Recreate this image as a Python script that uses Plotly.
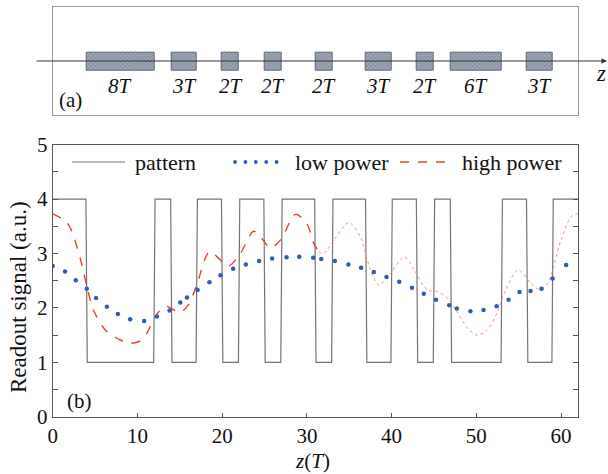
import plotly.graph_objects as go

# ---------------- data ----------------
# recorded marks (low level of the pattern), in units of T
mark_start = [4, 14, 20, 25, 31, 37, 43, 47, 56]
mark_end = [12, 17, 22, 27, 33, 40, 45, 53, 59]
z_min, z_max = 0, 62
level_high, level_low = 4, 1

# low power readout (dots)
lp_z = [0, 1.46, 2.72, 4.02, 5.12, 6.39, 7.69, 9.14, 10.8, 12.3, 13.8, 15.06, 15.85,
        17.1, 18.5, 19.8, 21.3, 22.8, 24.36, 25.9, 27.6, 29.1, 30.75, 31.7, 33.3,
        34.9, 36.4, 37.9, 39.4, 40.9, 42.4, 43.8, 45.25, 46.8, 47.7, 49.3, 50.85,
        52.4, 53.8, 55.1, 56.4, 57.7, 59.0, 60.6]
lp_v = [2.77, 2.67, 2.51, 2.35, 2.18, 2.02, 1.89, 1.79, 1.76, 1.84, 1.95, 2.10, 2.19,
        2.33, 2.47, 2.60, 2.72, 2.80, 2.86, 2.91, 2.93, 2.94, 2.92, 2.90, 2.86,
        2.80, 2.74, 2.66, 2.57, 2.48, 2.37, 2.26, 2.15, 2.05, 1.99, 1.94, 1.96,
        2.03, 2.15, 2.29, 2.31, 2.35, 2.54, 2.79]

# high power readout, dashed part
hp_z_a = [0, 1.5, 2.2, 3.3, 4.0, 4.8, 6.4, 8.0, 9.1, 10.3, 11.1, 12.1, 13.3, 15.0,
          16.0, 17.0, 18.5, 20.2, 20.8, 22.15, 23.7, 24.5, 25.7, 26.9, 28.66,
          30.0, 30.8, 31.4]
hp_v_a = [3.73, 3.60, 3.43, 2.88, 2.42, 1.96, 1.56, 1.41, 1.35, 1.39, 1.53, 1.84,
          2.03, 1.92, 2.05, 2.42, 3.03, 2.82, 2.77, 3.0, 3.41, 3.31, 3.10, 3.25,
          3.72, 3.55, 3.19, 3.03]
# high power readout, faint continuation
hp_z_b = [31.4, 32.0, 33.2, 34.96, 36.3, 37.5, 38.5, 39.9, 41.5, 42.65, 44.2, 45.4,
          46.6, 47.8, 49.0, 50.1, 51.3, 52.5, 53.3, 54.9, 56.45, 57.4, 58.4, 60.0,
          61.2, 62.0]
hp_v_b = [3.03, 3.0, 3.25, 3.57, 3.31, 2.70, 2.42, 2.64, 2.94, 2.70, 2.33, 2.30,
          2.18, 1.90, 1.62, 1.50, 1.59, 1.93, 2.27, 2.70, 2.45, 2.34, 2.45, 3.25,
          3.68, 3.73]

x_ticks = [0, 10, 20, 30, 40, 50, 60]
y_ticks = [0, 1, 2, 3, 4, 5]
legend_labels = ["pattern", "low power", "high power"]
x_title = "<i>z</i>(<i>T</i>)"
y_title = "Readout signal (a.u.)"

# ---------------- build pattern polyline ----------------
ramp = 0.08
pat_x = [z_min]
pat_y = [level_high]
for s, e in zip(mark_start, mark_end):
    pat_x += [s - ramp, s + ramp, e - ramp, e + ramp]
    pat_y += [level_high, level_low, level_low, level_high]
pat_x.append(z_max)
pat_y.append(level_high)

W, H = 608, 474
SERIF = "Liberation Serif"
INK = "#111"

def px(xp):
    return xp / W

def py(yp):
    return 1 - yp / H

fig = go.Figure()

# bottom panel traces
fig.add_trace(go.Scatter(x=pat_x, y=pat_y, mode="lines",
                         line=dict(color="#757575", width=1.2), showlegend=False))
fig.add_trace(go.Scatter(x=hp_z_a, y=hp_v_a, mode="lines",
                         line=dict(color="#e8402e", width=1.4, dash="dash", shape="spline", smoothing=0.8),
                         showlegend=False))
fig.add_trace(go.Scatter(x=hp_z_b, y=hp_v_b, mode="lines",
                         line=dict(color="#f39277", width=1.0, dash="dot", shape="spline", smoothing=0.8),
                         showlegend=False))
fig.add_trace(go.Scatter(x=lp_z, y=lp_v, mode="markers",
                         marker=dict(color="#2d5db4", size=4.5), showlegend=False))

# top panel: marks as bars
centers = [(s + e) / 2 for s, e in zip(mark_start, mark_end)]
lengths = [e - s for s, e in zip(mark_start, mark_end)]
fig.add_trace(go.Bar(x=centers, y=[0.165] * len(centers), base=0.415, width=lengths,
                     xaxis="x2", yaxis="y2",
                     marker=dict(color="#9da6b5", line=dict(color="#5e6678", width=1),
                                 pattern=dict(shape="x", size=3, fgcolor="#66707f", solidity=0.45)),
                     showlegend=False))

annotations = []
for c, n in zip(centers, lengths):
    annotations.append(dict(x=c, y=0.27, xref="x2", yref="y2", text=f"<i>{n}T</i>",
                            xanchor="center", yanchor="middle",
                            showarrow=False, font=dict(family=SERIF, size=21, color=INK)))
annotations.append(dict(x=0.55, y=0.14, xref="x2", yref="y2", text="(a)", xanchor="left",
                        yanchor="middle", showarrow=False, font=dict(family=SERIF, size=21, color=INK)))
annotations.append(dict(x=1.4, y=0.28, xref="x", yref="y", text="(b)", xanchor="left",
                        yanchor="middle", showarrow=False, font=dict(family=SERIF, size=21, color=INK)))
# axis arrow on top panel
annotations.append(dict(x=px(607), y=py(61), ax=-(607 - 35), ay=0, xref="paper", yref="paper",
                        axref="pixel", ayref="pixel", text="", showarrow=True,
                        arrowhead=2, arrowsize=1.1, arrowwidth=1, arrowcolor="#333"))
annotations.append(dict(x=px(601), y=py(73), xref="paper", yref="paper", text="<i>z</i>",
                        xanchor="center", yanchor="middle",
                        showarrow=False, font=dict(family=SERIF, size=23, color=INK)))
# axis titles
annotations.append(dict(x=px(18), y=py(297), xref="paper", yref="paper", text=y_title, textangle=-90,
                        xanchor="center", yanchor="middle",
                        showarrow=False, font=dict(family=SERIF, size=23, color=INK)))
annotations.append(dict(x=px(312), y=py(461), xref="paper", yref="paper", text=x_title,
                        xanchor="center", yanchor="middle",
                        showarrow=False, font=dict(family=SERIF, size=21, color=INK)))

# legend (manual)
leg_y = py(162)
shapes = []
shapes.append(dict(type="line", xref="paper", yref="paper", x0=px(72), x1=px(125), y0=leg_y, y1=leg_y,
                   line=dict(color="#757575", width=1.2)))
for i in range(5):
    xc = 235 + i * 10.4
    shapes.append(dict(type="circle", xref="paper", yref="paper",
                       x0=px(xc - 1.9), x1=px(xc + 1.9), y0=py(162 + 1.9), y1=py(162 - 1.9),
                       fillcolor="#2d5db4", line=dict(width=0)))
shapes.append(dict(type="line", xref="paper", yref="paper", x0=px(400), x1=px(452), y0=leg_y, y1=leg_y,
                   line=dict(color="#e8402e", width=1.4, dash="dash")))
for lbl, xl in zip(legend_labels, [133, 293, 460]):
    annotations.append(dict(x=px(xl), y=leg_y, xref="paper", yref="paper", text=lbl, xanchor="left",
                            yanchor="middle", showarrow=False,
                            font=dict(family=SERIF, size=22, color=INK)))

dom_x = [px(52.7), px(578)]
fig.update_layout(
    width=W, height=H, margin=dict(l=0, r=0, t=0, b=0),
    paper_bgcolor="white", plot_bgcolor="white",
    showlegend=False, bargap=0,
    xaxis=dict(domain=dom_x, range=[z_min, z_max], tickvals=x_ticks, ticks="inside", ticklen=4,
               tickcolor="#555", showline=True, linecolor="#555", linewidth=1.2, mirror=True,
               showgrid=False, zeroline=False, automargin=False,
               tickfont=dict(family=SERIF, size=21, color=INK)),
    yaxis=dict(domain=[py(416.7), py(144.7)], range=[0, 5], tickvals=y_ticks, ticks="inside", ticklen=5,
               tickcolor="#555", showline=True, linecolor="#555", linewidth=1.2, mirror="ticks",
               showgrid=False, zeroline=False, automargin=False,
               minor=dict(dtick=0.5, ticks="inside", ticklen=5, tickcolor="#555"),
               tickfont=dict(family=SERIF, size=21, color=INK)),
    xaxis2=dict(domain=dom_x, range=[z_min, z_max], anchor="y2", showticklabels=False, ticks="",
                showline=True, linecolor="#9a9a9a", linewidth=1, mirror=True, showgrid=False,
                zeroline=False, automargin=False),
    yaxis2=dict(domain=[py(115.3), py(6.7)], range=[0, 1], anchor="x2", showticklabels=False, ticks="",
                showline=True, linecolor="#9a9a9a", linewidth=1, mirror=True, showgrid=False,
                zeroline=False, automargin=False),
    annotations=annotations,
    shapes=shapes,
)

fig.write_html("out.html")
